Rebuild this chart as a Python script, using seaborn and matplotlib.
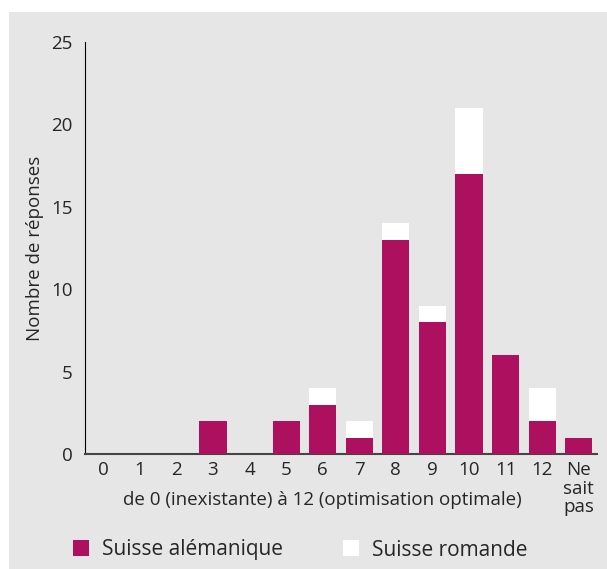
import matplotlib.pyplot as plt
import seaborn as sns
import pandas as pd
from matplotlib.patches import Rectangle, Patch

# Données
categories = ["0", "1", "2", "3", "4", "5", "6", "7", "8", "9", "10", "11", "12", "Ne\nsait\npas"]
alemanique = [0, 0, 0, 2, 0, 2, 3, 1, 13, 8, 17, 6, 2, 1]
romande = [0, 0, 0, 0, 0, 0, 1, 1, 1, 1, 4, 0, 2, 0]

df = pd.DataFrame({"cat": categories, "ale": alemanique, "rom": romande})
df["total"] = df["ale"] + df["rom"]

sns.set_style("white")
plt.rcParams["font.family"] = ["Open Sans", "DejaVu Sans"]

magenta = "#ae1060"
fond = "#e6e6e6"

fig = plt.figure(figsize=(6.07, 5.69), dpi=100)
fig.patches.append(Rectangle((9 / 607, 0), 1, (569 - 12) / 569, transform=fig.transFigure,
                             facecolor=fond, edgecolor="none", zorder=-10))
ax = fig.add_axes([85 / 607, (569 - 454) / 569, 512 / 607, 412 / 569])
ax.set_facecolor("none")

sns.barplot(data=df, x="cat", y="total", order=categories, color="white", width=0.74,
            saturation=1, linewidth=0, ax=ax, zorder=2)
sns.barplot(data=df, x="cat", y="ale", order=categories, color=magenta, width=0.74,
            saturation=1, linewidth=0, ax=ax, zorder=3)

ax.set_xlim(-0.5, 13.5)
ax.set_ylim(0, 25)
ax.set_yticks([0, 5, 10, 15, 20, 25])
ax.tick_params(axis="y", direction="in", length=9, width=1, color="black",
               labelsize=13.5, pad=9)
ax.set_xticks(range(len(categories)))
ax.set_xticklabels(categories, va="top", linespacing=1.05)
ax.tick_params(axis="x", which="major", length=0, labelsize=13.5, pad=5)
ax.set_xticks([i + 0.5 for i in range(13)], minor=True)
ax.tick_params(axis="x", which="minor", direction="in", length=7, width=1.2, color="#444444")

for s in ["top", "right"]:
    ax.spines[s].set_visible(False)
ax.spines["left"].set_color("black")
ax.spines["bottom"].set_color("#444444")
ax.spines["bottom"].set_linewidth(1.5)

ax.set_xlabel("")
ax.set_ylabel("Nombre de réponses", fontsize=13.5, labelpad=5)
ax.text(6, -2.8, "de 0 (inexistante) à 12 (optimisation optimale)", ha="center", va="center",
        fontsize=13.5, transform=ax.transData)

handles = [Patch(facecolor=magenta, edgecolor="none", label="Suisse alémanique"),
           Patch(facecolor="white", edgecolor="none", label="Suisse romande")]
fig.legend(handles=handles, loc="center", bbox_to_anchor=(300 / 607, 1 - 550 / 569), ncol=2,
           frameon=False, fontsize=15, handlelength=0.78, handleheight=0.78,
           handletextpad=0.6, columnspacing=2.9, borderpad=0)

fig.savefig("out.png", dpi=100, facecolor="white")
